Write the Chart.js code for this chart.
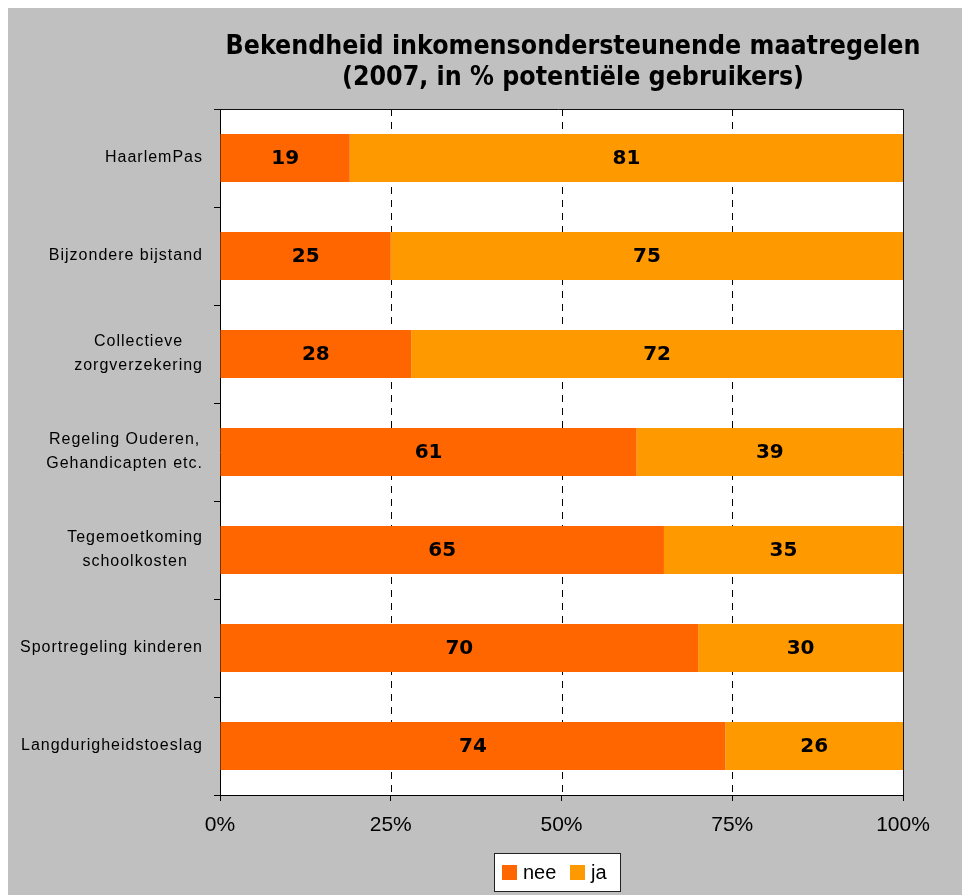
<!DOCTYPE html>
<html>
<head>
<meta charset="utf-8">
<script src="https://cdn.jsdelivr.net/npm/chart.js@4/dist/chart.umd.min.js"></script>
<style>
  body { background: #fff; }
  canvas { display: block; }
</style>
</head>
<body>
<canvas id="bekendheidChart" width="962" height="887"></canvas>
<script>
const titleLines = ["Bekendheid inkomensondersteunende maatregelen", "(2007, in % potentiële gebruikers)"];
const categories = [
  ["HaarlemPas"],
  ["Bijzondere bijstand"],
  ["Collectieve", "zorgverzekering"],
  ["Regeling Ouderen,", "Gehandicapten etc."],
  ["Tegemoetkoming", "schoolkosten"],
  ["Sportregeling kinderen"],
  ["Langdurigheidstoeslag"]
];
const neeValues = [19, 25, 28, 61, 65, 70, 74];
const jaValues = [81, 75, 72, 39, 35, 30, 26];
const xTicks = [0, 25, 50, 75, 100];
const seriesNames = ["nee", "ja"];
const seriesColors = ["#FF6600", "#FF9900"];

const BG = "#C0C0C0";

// background, plot area, dashed gridlines
const framePlugin = {
  id: "frame",
  beforeDraw(chart) {
    const { ctx, chartArea: a } = chart;
    ctx.save();
    ctx.fillStyle = BG;
    ctx.fillRect(0, 0, chart.width, chart.height);
    ctx.fillStyle = "#fff";
    ctx.fillRect(a.left, a.top, a.right - a.left, a.bottom - a.top);
    ctx.restore();
  },
  beforeDatasetsDraw(chart) {
    const { ctx, chartArea: a, scales } = chart;
    ctx.save();
    ctx.strokeStyle = "#000";
    ctx.lineWidth = 1;
    ctx.setLineDash([7, 6]);
    xTicks.slice(1, -1).forEach(v => {
      const x = Math.round(scales.x.getPixelForValue(v)) + 0.5;
      ctx.beginPath();
      ctx.moveTo(x, a.top);
      ctx.lineTo(x, a.bottom);
      ctx.stroke();
    });
    ctx.restore();
  },
  afterDatasetsDraw(chart) {
    const { ctx, chartArea: a } = chart;
    ctx.save();
    ctx.strokeStyle = "#111";
    ctx.lineWidth = 1;
    ctx.beginPath();
    ctx.moveTo(a.left - 6, a.top + 0.5);
    ctx.lineTo(a.right + 0.5, a.top + 0.5);
    ctx.lineTo(a.right + 0.5, a.bottom);
    ctx.stroke();

    // value labels in the middle of each segment
    ctx.fillStyle = "#000";
    ctx.font = "bold 20px 'DejaVu Sans'";
    ctx.textAlign = "center";
    ctx.textBaseline = "middle";
    chart.data.datasets.forEach((ds, i) => {
      chart.getDatasetMeta(i).data.forEach((bar, j) => {
        ctx.fillText(String(ds.data[j]), (bar.x + bar.base) / 2, bar.y + 1);
      });
    });
    ctx.restore();
  },
  afterDraw(chart) {
    const { ctx, chartArea: a, scales } = chart;
    ctx.save();
    ctx.fillStyle = "#000";
    ctx.textBaseline = "middle";

    // title
    ctx.textAlign = "center";
    ctx.font = "bold 26.5px 'DejaVu Sans Condensed', 'DejaVu Sans'";
    ctx.fillText(titleLines[0], 565, 39);
    ctx.fillText(titleLines[1], 565, 70);

    // category labels: block right aligned, lines centred inside it
    ctx.font = "16px 'Liberation Sans', Arial";
    ctx.letterSpacing = "1px";
    categories.forEach((lines, i) => {
      const yc = scales.y.getPixelForValue(i);
      const w = Math.max(...lines.map(l => ctx.measureText(l).width));
      const xc = 195 - w / 2;
      const lh = 24;
      lines.forEach((l, k) => {
        ctx.fillText(l, xc, yc + (k - (lines.length - 1) / 2) * lh);
      });
    });

    // legend
    ctx.letterSpacing = "0px";
    const lx = 486, ly = 845, lw = 126, lhgt = 38;
    ctx.fillStyle = "#fff";
    ctx.fillRect(lx, ly, lw, lhgt);
    ctx.strokeStyle = "#222";
    ctx.strokeRect(lx + 0.5, ly + 0.5, lw, lhgt);
    ctx.font = "20px 'Liberation Sans', Arial";
    ctx.textAlign = "left";
    const items = [{ x: 494, tx: 515 }, { x: 562, tx: 583 }];
    seriesNames.forEach((name, i) => {
      ctx.fillStyle = seriesColors[i];
      ctx.fillRect(items[i].x, ly + 12, 15, 15);
      ctx.fillStyle = "#000";
      ctx.fillText(name, items[i].tx, ly + 20);
    });
    ctx.restore();
  }
};

new Chart(document.getElementById("bekendheidChart"), {
  type: "bar",
  data: {
    labels: categories,
    datasets: seriesNames.map((name, i) => ({
      label: name,
      data: i === 0 ? neeValues : jaValues,
      backgroundColor: seriesColors[i],
      borderWidth: 0,
      barPercentage: 0.49,
      categoryPercentage: 1
    }))
  },
  options: {
    indexAxis: "y",
    responsive: false,
    animation: false,
    layout: { padding: { top: 101, right: 67, left: 0, bottom: 0 } },
    plugins: {
      legend: { display: false },
      title: { display: false },
      tooltip: { enabled: false }
    },
    scales: {
      x: {
        stacked: true,
        min: 0,
        max: 100,
        afterBuildTicks(scale) {
          scale.ticks = xTicks.map(v => ({ value: v }));
        },
        afterFit(scale) { scale.height = 100; },
        grid: { drawOnChartArea: false, tickLength: 6, tickColor: "#000" },
        border: { color: "#000", width: 1 },
        ticks: {
          color: "#000",
          padding: 12,
          font: { family: "'Liberation Sans', Arial", size: 21 },
          callback: v => v + "%"
        }
      },
      y: {
        stacked: true,
        afterFit(scale) { scale.width = 212; },
        grid: { drawOnChartArea: false, tickLength: 6, tickColor: "#000", offset: true },
        border: { color: "#000", width: 1 },
        ticks: { callback: () => "" }
      }
    }
  },
  plugins: [framePlugin]
});
</script>
</body>
</html>
